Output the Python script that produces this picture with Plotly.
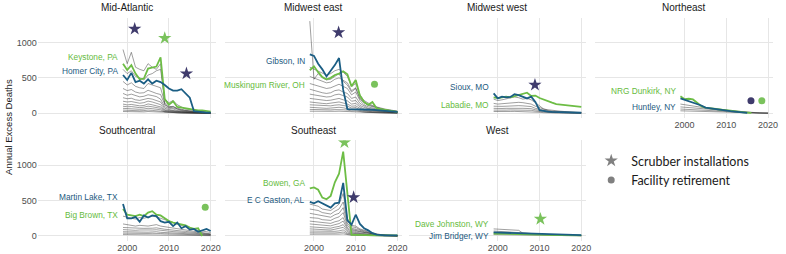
import plotly.graph_objects as go

# ---------------- data ----------------
YEARS = list(range(1999, 2021))

# Mid-Atlantic
MA_GRAY = [
    [900, 700, 860, 650, 620, 600, 700, 650, 620, 700, 120, 80, 100, 60, 50, 40, 30, 30, 20, 20, 15, 10],
    [620, 560, 600, 520, 500, 470, 540, 560, 600, 620, 200, 150, 180, 120, 90, 60, 50, 40, 30, 25, 20, 15],
    [450, 400, 430, 380, 360, 350, 420, 400, 380, 360, 150, 100, 90, 70, 50, 40, 30, 25, 20, 15, 10, 10],
    [350, 320, 335, 300, 285, 290, 325, 300, 280, 265, 125, 90, 80, 60, 40, 30, 25, 20, 15, 10, 10, 5],
    [280, 255, 270, 250, 232, 240, 262, 250, 236, 200, 92, 70, 62, 40, 30, 25, 20, 15, 10, 10, 5, 5],
    [220, 205, 212, 190, 182, 195, 210, 200, 178, 160, 70, 52, 40, 30, 25, 20, 15, 10, 10, 5, 5, 5],
    [170, 160, 166, 150, 142, 150, 172, 160, 140, 122, 50, 40, 30, 25, 20, 15, 10, 10, 5, 5, 5, 5],
    [130, 118, 125, 112, 105, 110, 132, 120, 102, 90, 40, 30, 25, 20, 15, 10, 10, 5, 5, 5, 3, 3],
    [100, 92, 95, 85, 80, 86, 100, 92, 80, 70, 30, 25, 20, 15, 10, 8, 6, 5, 4, 3, 3, 2],
    [70, 64, 68, 60, 56, 60, 71, 65, 55, 50, 20, 15, 12, 10, 8, 6, 5, 4, 3, 3, 2, 2],
    [45, 40, 43, 38, 35, 38, 45, 41, 35, 30, 15, 10, 8, 6, 5, 4, 3, 3, 2, 2, 1, 1],
    [25, 22, 24, 20, 18, 20, 25, 22, 20, 18, 8, 6, 5, 4, 3, 3, 2, 2, 1, 1, 1, 1],
]
MA_GREEN = [700, 610, 680, 560, 480, 490, 630, 640, 660, 790, 200, 120, 170, 90, 80, 60, 50, 45, 40, 40, 35, 25]
MA_BLUE = [540, 470, 570, 440, 460, 420, 480, 420, 460, 440, 400, 350, 320, 320, 340, 280, 220, 30, 20, 15, 10, 10]

# Midwest east
ME_GRAY = [
    [1300, 480, 560, 500, 470, 480, 520, 560, 450, 400, 300, 350, 200, 150, 120, 100, 80, 60, 50, 40, 30, 25],
    [650, 620, 600, 560, 540, 560, 600, 620, 580, 520, 380, 420, 260, 180, 140, 110, 90, 70, 60, 50, 40, 30],
    [520, 500, 480, 450, 430, 440, 480, 500, 470, 430, 320, 360, 220, 150, 110, 90, 70, 60, 50, 40, 30, 25],
    [420, 400, 390, 360, 350, 360, 390, 410, 380, 350, 260, 300, 180, 120, 90, 70, 60, 50, 40, 30, 25, 20],
    [340, 320, 310, 290, 280, 290, 320, 330, 300, 280, 210, 230, 140, 100, 70, 60, 50, 40, 30, 25, 20, 15],
    [270, 260, 250, 240, 230, 235, 260, 270, 250, 230, 170, 180, 110, 80, 60, 50, 40, 30, 25, 20, 15, 10],
    [210, 200, 195, 185, 180, 185, 200, 210, 190, 175, 130, 140, 90, 60, 45, 40, 30, 25, 20, 15, 12, 10],
    [160, 150, 148, 140, 135, 140, 155, 160, 145, 130, 100, 105, 70, 45, 35, 30, 25, 20, 15, 12, 10, 8],
    [120, 115, 110, 105, 100, 105, 115, 120, 110, 100, 75, 80, 50, 35, 28, 22, 18, 15, 12, 10, 8, 6],
    [85, 80, 78, 74, 70, 74, 80, 85, 78, 70, 52, 55, 35, 25, 20, 16, 13, 10, 8, 7, 6, 5],
    [55, 52, 50, 48, 45, 48, 52, 55, 50, 45, 34, 36, 23, 16, 13, 10, 8, 7, 6, 5, 4, 3],
    [30, 28, 27, 26, 25, 26, 28, 30, 27, 25, 18, 20, 12, 9, 7, 6, 5, 4, 3, 3, 2, 2],
]
ME_GREEN = [607, 663, 580, 510, 480, 500, 540, 560, 593, 550, 380, 470, 250, 160, 120, 160, 70, 60, 40, 30, 25, 20]
ME_BLUE = [830, 810, 700, 620, 520, 600, 680, 780, 330, 60, 60, 55, 60, 55, 50, 50, 45, 40, 35, 30, 25, 20]

# Midwest west
MW_GRAY = [
    [200, 180, 190, 200, 210, 230, 220, 200, 210, 190, 150, 100, 60, 50, 40, 35, 30, 25, 20, 15, 12, 10],
    [140, 130, 135, 140, 150, 160, 155, 150, 140, 130, 100, 80, 50, 40, 30, 25, 20, 18, 15, 12, 10, 8],
    [100, 95, 98, 100, 105, 110, 108, 105, 100, 95, 70, 55, 35, 30, 25, 20, 15, 12, 10, 8, 7, 6],
    [70, 65, 68, 70, 72, 75, 73, 70, 68, 65, 50, 40, 25, 20, 15, 12, 10, 8, 7, 6, 5, 4],
    [45, 42, 44, 45, 47, 48, 47, 45, 44, 42, 32, 25, 16, 13, 10, 8, 7, 6, 5, 4, 3, 3],
    [25, 23, 24, 25, 26, 27, 26, 25, 24, 23, 18, 14, 9, 7, 6, 5, 4, 3, 3, 2, 2, 2],
]
MW_GREEN = [225, 215, 225, 235, 225, 240, 250, 265, 290, 245, 250, 215, 190, 165, 150, 130, 125, 115, 105, 100, 95, 90]
MW_BLUE = [280, 210, 235, 225, 230, 270, 255, 235, 210, 235, 160, 45, 30, 25, 20, 18, 15, 12, 10, 10, 8, 8]

# Northeast
NE_GRAY = [
    [130, 120, 110, 100, 90, 80, 70, 60, 55, 50, 45, 40, 30, 25, 20, 15, 10, 8, 6, 5, 4, 3],
    [90, 85, 80, 75, 70, 65, 60, 55, 50, 45, 40, 35, 28, 22, 18, 14, 10, 8, 6, 5, 4, 3],
    [60, 58, 55, 52, 50, 46, 42, 40, 38, 35, 30, 25, 20, 16, 12, 10, 8, 6, 5, 4, 3, 2],
    [35, 33, 32, 30, 28, 26, 24, 22, 20, 18, 16, 14, 12, 10, 8, 6, 5, 4, 3, 2, 2, 1],
]
NE_GREEN = [240, 200, 205, 195, 150, 100, 80, 70, 65, 60, 50, 45, 35, 25, 20, 15, 10, 5, None, None, None, None]
NE_BLUE = [210, 190, 175, 155, 140, 110, 80, 70, 60, 55, 50, 40, 30, 25, 20, 10, 5, None, None, None, None, None]

# Southcentral
SC_GRAY = [
    [280, 260, 250, 240, 260, 250, 270, 280, 270, 250, 220, 200, 180, 160, 140, 120, 100, 90, 80, 70, 60, 50],
    [170, 160, 150, 140, 150, 145, 140, 150, 160, 140, 130, 120, 110, 100, 95, 90, 80, 70, 60, 50, 40, 30],
    [120, 115, 110, 105, 110, 108, 105, 110, 115, 100, 95, 90, 80, 75, 70, 65, 60, 50, 45, 40, 35, 25],
    [90, 85, 82, 80, 85, 82, 80, 85, 88, 78, 72, 68, 62, 58, 54, 50, 45, 40, 35, 30, 25, 20],
    [60, 58, 56, 55, 57, 55, 54, 57, 60, 52, 48, 45, 42, 40, 36, 33, 30, 27, 24, 20, 18, 15],
    [40, 38, 37, 36, 38, 37, 36, 38, 40, 35, 32, 30, 28, 26, 24, 22, 20, 18, 16, 14, 12, 10],
    [20, 19, 18, 18, 19, 18, 18, 19, 20, 17, 16, 15, 14, 13, 12, 11, 10, 9, 8, 7, 6, 5],
]
SC_GREEN = [380, 300, 290, 280, 300, 280, 330, 350, 300, 290, 250, 210, 190, 180, 160, 150, 120, 100, 110, 0, None, None]
SC_BLUE = [450, 250, 250, 270, 200, 290, 260, 290, 280, 210, 190, 200, 140, 190, 110, 140, 90, 100, 60, 80, 100, 70]

# Southeast
SE_GRAY = [
    [450, 430, 420, 380, 370, 360, 400, 450, 600, 250, 150, 140, 100, 80, 60, 40, 30, 20, 15, 10, 8, 5],
    [380, 370, 360, 330, 320, 310, 350, 380, 480, 220, 130, 120, 90, 70, 50, 35, 25, 18, 12, 10, 8, 5],
    [320, 310, 300, 280, 270, 265, 300, 320, 400, 180, 110, 100, 80, 60, 45, 30, 22, 15, 10, 8, 6, 4],
    [260, 255, 250, 230, 225, 220, 250, 270, 330, 150, 95, 85, 65, 50, 38, 26, 18, 12, 9, 7, 5, 3],
    [210, 205, 200, 185, 180, 178, 200, 215, 260, 120, 80, 70, 55, 42, 32, 22, 15, 10, 8, 6, 4, 3],
    [170, 165, 160, 150, 145, 143, 160, 175, 210, 100, 65, 58, 45, 35, 26, 18, 12, 9, 7, 5, 4, 2],
    [130, 128, 125, 115, 112, 110, 125, 135, 160, 80, 50, 45, 35, 28, 20, 14, 10, 7, 5, 4, 3, 2],
    [100, 98, 95, 88, 85, 84, 95, 104, 122, 60, 38, 34, 27, 21, 15, 11, 8, 6, 4, 3, 2, 2],
    [70, 68, 66, 62, 60, 59, 66, 72, 86, 42, 27, 24, 19, 15, 11, 8, 6, 4, 3, 2, 2, 1],
    [45, 44, 43, 40, 39, 38, 43, 47, 56, 28, 18, 16, 12, 10, 7, 5, 4, 3, 2, 2, 1, 1],
    [25, 24, 23, 22, 21, 21, 23, 26, 30, 15, 10, 9, 7, 5, 4, 3, 2, 2, 1, 1, 1, 1],
]
SE_GREEN = [672, 686, 653, 542, 518, 566, 758, 878, 1190, 560, 15, 15, 12, 12, 10, 10, 10, 10, 10, 10, 10, 10]
SE_BLUE = [480, 460, 490, 460, 430, 400, 460, 470, 750, 220, 160, 300, 170, 110, 80, 40, 20, 10, 10, 10, 10, 10]

# West
WE_GRAY = [
    [100, 95, 90, 85, 80, 85, 80, 40, 35, 30, 28, 25, 22, 20, 18, 16, 14, 12, 10, 8, 6, 5],
    [70, 65, 60, 58, 55, 52, 50, 45, 40, 35, 30, 27, 24, 21, 19, 17, 15, 13, 11, 9, 7, 6],
    [40, 38, 36, 34, 32, 30, 29, 28, 26, 24, 22, 20, 18, 16, 14, 12, 10, 9, 8, 7, 6, 5],
    [20, 19, 18, 17, 16, 15, 15, 14, 13, 12, 11, 10, 9, 8, 7, 6, 5, 5, 4, 4, 3, 3],
]
WE_GREEN = [35, 33, 32, 30, 30, 28, 27, 26, 25, 24, 20, 18, 16, 15, 14, 13, 12, 11, 10, 10, 9, 8]
WE_BLUE = [50, 48, 45, 42, 40, 40, 38, 35, 33, 30, 28, 25, 22, 20, 20, 18, 17, 16, 15, 14, 13, 12]

# events: (facility colour group, kind, year, value)
MA_EVENTS = [("blue", "Scrubber", 2001.8, 1190), ("green", "Scrubber", 2009.0, 1060), ("blue", "Scrubber", 2014.2, 560)]
ME_EVENTS = [("blue", "Scrubber", 2005.9, 1140), ("green", "Retirement", 2014.5, 410)]
MW_EVENTS = [("blue", "Scrubber", 2008.9, 400)]
NE_EVENTS = [("blue", "Retirement", 2015.9, 178), ("green", "Retirement", 2018.5, 178)]
SC_EVENTS = [("green", "Retirement", 2018.7, 405)]
SE_EVENTS = [("green", "Scrubber", 2007.3, 1320), ("blue", "Scrubber", 2009.5, 545)]
WE_EVENTS = [("green", "Scrubber", 2010.2, 240)]

PANELS = [
    # name, row, col, gray, green, blue, green label, blue label, events
    ("Mid-Atlantic", 0, 0, MA_GRAY, MA_GREEN, MA_BLUE, "Keystone, PA", "Homer City, PA", MA_EVENTS),
    ("Midwest east", 0, 1, ME_GRAY, ME_GREEN, ME_BLUE, "Muskingum River, OH", "Gibson, IN", ME_EVENTS),
    ("Midwest west", 0, 2, MW_GRAY, MW_GREEN, MW_BLUE, "Labadie, MO", "Sioux, MO", MW_EVENTS),
    ("Northeast", 0, 3, NE_GRAY, NE_GREEN, NE_BLUE, "NRG Dunkirk, NY", "Huntley, NY", NE_EVENTS),
    ("Southcentral", 1, 0, SC_GRAY, SC_GREEN, SC_BLUE, "Big Brown, TX", "Martin Lake, TX", SC_EVENTS),
    ("Southeast", 1, 1, SE_GRAY, SE_GREEN, SE_BLUE, "Bowen, GA", "E C Gaston, AL", SE_EVENTS),
    ("West", 1, 2, WE_GRAY, WE_GREEN, WE_BLUE, "Dave Johnston, WY", "Jim Bridger, WY", WE_EVENTS),
]

# label placement (y value where each direct label sits): green, blue
LABEL_Y = {
    "Mid-Atlantic": (794, 597),
    "Midwest east": (399, 738),
    "Midwest west": (117, 371),
    "Northeast": (314, 89),
    "Southcentral": (296, 546),
    "Southeast": (748, 508),
    "West": (169, 0),
}

X_TICKS = [2000, 2010, 2020]
Y_TICKS = [0, 500, 1000]

# ---------------- styling / layout ----------------
W, H = 786, 254
GREEN = "#6dbd45"
BLUE = "#1b5e84"
GREEN_TXT = "#66bb40"
BLUE_TXT = "#1d5a80"
DARK_MARK = "#3f3b6c"
GREEN_MARK = "#7ac25c"
GRID = "#e6e6e6"
FONT = "Liberation Sans, Arial, sans-serif"

X_RANGE = [1978.6, 2021.2]
Y_RANGE = [-70, 1350]
PX_PER_YEAR = 4.2
COL_X2000 = [128, 316, 501, 689]
ROW_Y0 = [113.3, 236.0]  # pixel of value 0
PX_PER_UNIT = 0.0709

fig = go.Figure()
layout = dict(
    width=W, height=H, margin=dict(l=0, r=0, t=0, b=0),
    paper_bgcolor="white", plot_bgcolor="white",
    font=dict(family=FONT, size=9, color="#4d4d4d"),
    showlegend=True,
)
annotations = []

for i, (name, row, col, gray, green, blue, glab, blab, events) in enumerate(PANELS, start=1):
    xa = "x" if i == 1 else f"x{i}"
    ya = "y" if i == 1 else f"y{i}"
    left = COL_X2000[col] - (2000 - X_RANGE[0]) * PX_PER_YEAR
    right = COL_X2000[col] + (X_RANGE[1] - 2000) * PX_PER_YEAR
    bottom = ROW_Y0[row] - Y_RANGE[0] * PX_PER_UNIT
    top = ROW_Y0[row] - Y_RANGE[1] * PX_PER_UNIT
    show_x = (row == 1) or (col == 3)
    show_y = col == 0
    layout["xaxis" if i == 1 else f"xaxis{i}"] = dict(
        domain=[left / W, right / W], range=X_RANGE, anchor=ya,
        tickvals=X_TICKS, showticklabels=show_x, showgrid=True, gridcolor=GRID, gridwidth=1,
        zeroline=False, showline=False, ticks="", tickfont=dict(size=9, color="#4d4d4d"),
        fixedrange=True,
    )
    layout["yaxis" if i == 1 else f"yaxis{i}"] = dict(
        domain=[1 - bottom / H, 1 - top / H], range=Y_RANGE, anchor=xa,
        tickvals=Y_TICKS, showticklabels=show_y, showgrid=True, gridcolor=GRID, gridwidth=1,
        zeroline=False, showline=False, ticks="", tickfont=dict(size=9, color="#4d4d4d"),
        fixedrange=True,
    )
    for g in gray:
        fig.add_trace(go.Scatter(x=YEARS, y=g, xaxis=xa, yaxis=ya, mode="lines",
                                 line=dict(color="rgba(45,45,45,0.65)", width=0.7),
                                 showlegend=False, hoverinfo="skip"))
    fig.add_trace(go.Scatter(x=YEARS, y=green, xaxis=xa, yaxis=ya, mode="lines",
                             line=dict(color=GREEN, width=1.8), showlegend=False, name=glab))
    fig.add_trace(go.Scatter(x=YEARS, y=blue, xaxis=xa, yaxis=ya, mode="lines",
                             line=dict(color=BLUE, width=1.8), showlegend=False, name=blab))
    for grp, kind, yr, val in events:
        fig.add_trace(go.Scatter(
            x=[yr], y=[val], xaxis=xa, yaxis=ya, mode="markers", showlegend=False,
            marker=dict(symbol="star" if kind == "Scrubber" else "circle",
                        size=10 if kind == "Scrubber" else 7,
                        color=GREEN_MARK if grp == "green" else DARK_MARK, line=dict(width=0))))
    gy, by = LABEL_Y[name]
    annotations.append(dict(x=1998.3, y=gy, xref=xa, yref=ya, text=glab, showarrow=False,
                            xanchor="right", yanchor="middle", font=dict(size=8.3, color=GREEN_TXT, family=FONT)))
    annotations.append(dict(x=1998.3, y=by, xref=xa, yref=ya, text=blab, showarrow=False,
                            xanchor="right", yanchor="middle", font=dict(size=8.3, color=BLUE_TXT, family=FONT)))
    # panel title
    annotations.append(dict(x=(left + right) / 2 / W, y=1 - (top - 10) / H, xref="paper", yref="paper",
                            text=name, showarrow=False, xanchor="center", yanchor="middle",
                            font=dict(size=10, color="#1a1a1a", family=FONT)))

annotations.append(dict(x=8 / W, y=1 - 127 / H, xref="paper", yref="paper", text="Annual Excess Deaths",
                        textangle=-90, showarrow=False, xanchor="center", yanchor="middle",
                        font=dict(size=9.5, color="#1a1a1a", family=FONT)))

# legend entries
fig.add_trace(go.Scatter(x=[None], y=[None], mode="markers", name="Scrubber installations",
                         marker=dict(symbol="star", size=10, color="#808080")))
fig.add_trace(go.Scatter(x=[None], y=[None], mode="markers", name="Facility retirement",
                         marker=dict(symbol="circle", size=7, color="#808080")))

layout["annotations"] = annotations
layout["legend"] = dict(x=595 / W, y=1 - 146 / H, xanchor="left", yanchor="top",
                        font=dict(family="Lato, Open Sans, sans-serif", size=12.5, color="#1a1a1a"),
                        bgcolor="rgba(0,0,0,0)", itemwidth=30, tracegroupgap=0)
fig.update_layout(**layout)
fig.write_html("out.html", config={"displayModeBar": False},
               post_script="document.body.style.margin='0px';")
